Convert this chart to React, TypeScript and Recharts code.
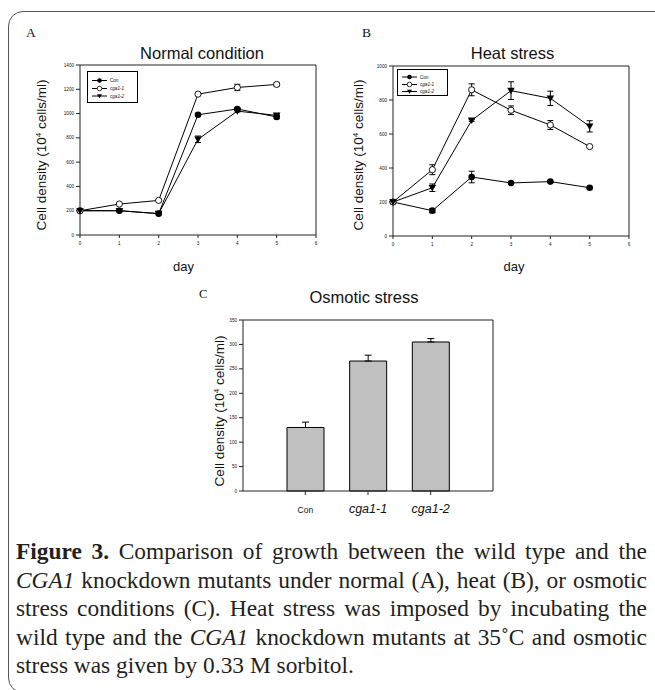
import { LineChart, Line, BarChart, Bar, XAxis, YAxis, ErrorBar, CartesianGrid } from "recharts";

// growth curves, cell density (10^4 cells/ml) by day
const days = [0, 1, 2, 3, 4, 5];
const dayTicks = [0, 1, 2, 3, 4, 5, 6];

const normalCon = [200, 200, 176, 990, 1038, 972];
const normalConErr = [4, 4, 4, 8, 10, 14];
const normalCga11 = [200, 255, 285, 1160, 1215, 1240];
const normalCga11Err = [4, 4, 4, 10, 26, 14];
const normalCga12 = [200, 200, 176, 788, 1020, 985];
const normalCga12Err = [4, 4, 4, 27, 8, 10];
const normalTicks = [0, 200, 400, 600, 800, 1000, 1200, 1400];

const heatCon = [200, 149, 347, 312, 320, 284];
const heatConErr = [4, 12, 34, 4, 4, 4];
const heatCga11 = [200, 390, 860, 740, 653, 526];
const heatCga11Err = [4, 29, 35, 25, 26, 4];
const heatCga12 = [200, 284, 680, 855, 810, 645];
const heatCga12Err = [4, 22, 5, 52, 42, 33];
const heatTicks = [0, 200, 400, 600, 800, 1000];

// osmotic stress bars
const strains = ["Con", "cga1-1", "cga1-2"];
const osmotic = [130, 266, 305];
const osmoticErr = [11, 12, 7];
const osmoticTicks = [0, 50, 100, 150, 200, 250, 300, 350];

const SANS = '"Liberation Sans", Arial, sans-serif';
const SERIF = '"Liberation Serif", "Times New Roman", serif';
const INK = "#111";

const growthRows = (
  con: number[], conErr: number[],
  c1: number[], c1Err: number[],
  c2: number[], c2Err: number[]
) =>
  days.map((day, i) => ({
    day,
    con: con[i], conErr: conErr[i],
    c1: c1[i], c1Err: c1Err[i],
    c2: c2[i], c2Err: c2Err[i],
  }));

const normalRows = growthRows(normalCon, normalConErr, normalCga11, normalCga11Err, normalCga12, normalCga12Err);
const heatRows = growthRows(heatCon, heatConErr, heatCga11, heatCga11Err, heatCga12, heatCga12Err);
const osmoticRows = strains.map((name, i) => ({ name, value: osmotic[i], err: [0, osmoticErr[i]] }));

const tickFont = { fontSize: 4.6, fill: INK, fontFamily: SANS };

// top and right edges of the plot box, taken from the chart's own offset
const topEdge = ({ offset }: any) => [offset.top];
const rightEdge = ({ offset }: any) => [offset.left + offset.width];

const triDot = (p: any) => {
  const { cx, cy, index } = p;
  if (cx == null || cy == null) return <g key={index} />;
  return (
    <path
      key={index}
      d={`M${cx - 3.8},${cy - 2.8} L${cx + 3.8},${cy - 2.8} L${cx},${cy + 3.6} Z`}
      fill="#000"
    />
  );
};

function Marker({ kind, x, y, r }: { kind: number; x: number; y: number; r: number }) {
  if (kind === 0) return <circle cx={x} cy={y} r={r} fill="#000" />;
  if (kind === 1) return <circle cx={x} cy={y} r={r} fill="#fff" stroke="#000" strokeWidth={0.8} />;
  return <path d={`M${x - r * 1.1},${y - r * 0.8} L${x + r * 1.1},${y - r * 0.8} L${x},${y + r} Z`} fill="#000" />;
}

function LegendBox({ left, top, width, height, rows }: { left: number; top: number; width: number; height: number; rows: number[] }) {
  return (
    <svg style={{ position: "absolute", left, top }} width={width} height={height}>
      <rect x={0.5} y={0.5} width={width - 1} height={height - 1} fill="#fff" stroke="#000" strokeWidth={1} />
      {strains.map((name, i) => (
        <g key={name}>
          <line x1={5} x2={20} y1={rows[i]} y2={rows[i]} stroke="#000" strokeWidth={1} />
          <Marker kind={i} x={12.5} y={rows[i]} r={2.3} />
          <text
            x={23}
            y={rows[i] + 1.6}
            fontSize={4.6}
            fontFamily={SANS}
            fontStyle={i === 0 ? "normal" : "italic"}
            fill={INK}
          >
            {name}
          </text>
        </g>
      ))}
    </svg>
  );
}

function GrowthChart({
  rows, ticks, left, top, width, height, margin,
}: {
  rows: any[]; ticks: number[]; left: number; top: number; width: number; height: number;
  margin: { top: number; right: number; bottom: number; left: number };
}) {
  const max = ticks[ticks.length - 1];
  return (
    <div style={{ position: "absolute", left, top }}>
      <LineChart width={width} height={height} data={rows} margin={margin}>
        <CartesianGrid
          stroke="#222" strokeWidth={1} fill="none"
          horizontalCoordinatesGenerator={topEdge}
          verticalCoordinatesGenerator={rightEdge}
        />
        <XAxis
          dataKey="day" type="number" domain={[0, 6]} ticks={dayTicks} height={30}
          tick={tickFont} tickSize={3} tickMargin={3.5}
          axisLine={{ stroke: "#222" }} tickLine={{ stroke: "#222" }}
        />
        <YAxis
          domain={[0, max]} ticks={ticks} width={30} interval={0}
          tick={tickFont} tickSize={4} tickMargin={2}
          axisLine={{ stroke: "#222" }} tickLine={{ stroke: "#222" }}
        />
        <Line
          dataKey="con" type="linear" stroke="#000" strokeWidth={1}
          dot={{ r: 3.3, fill: "#000", stroke: "#000", strokeWidth: 0 }}
          isAnimationActive={false}
        >
          <ErrorBar dataKey="conErr" width={3} stroke="#000" strokeWidth={1} />
        </Line>
        <Line
          dataKey="c1" type="linear" stroke="#000" strokeWidth={1}
          dot={{ r: 3.1, fill: "#fff", stroke: "#000", strokeWidth: 0.9 }}
          isAnimationActive={false}
        >
          <ErrorBar dataKey="c1Err" width={3} stroke="#000" strokeWidth={1} />
        </Line>
        <Line
          dataKey="c2" type="linear" stroke="#000" strokeWidth={1}
          dot={triDot}
          isAnimationActive={false}
        >
          <ErrorBar dataKey="c2Err" width={3} stroke="#000" strokeWidth={1} />
        </Line>
      </LineChart>
    </div>
  );
}

const StrainTick = (props: any) => {
  const { x, y, payload } = props;
  const isCon = payload.value === "Con";
  return (
    <text
      x={x} y={y + 16} textAnchor="middle" fill={INK} fontFamily={SANS}
      fontSize={isCon ? 8.5 : 12.5} fontStyle={isCon ? "normal" : "italic"}
    >
      {payload.value}
    </text>
  );
};

function YLabel({ x, y }: { x: number; y: number }) {
  return (
    <text transform={`translate(${x},${y}) rotate(-90)`} textAnchor="middle" fontSize={13.5} fontFamily={SANS} fill={INK}>
      Cell density (10<tspan fontSize={8} dy={-5.5}>4</tspan>
      <tspan dy={5.5}> cells/ml)</tspan>
    </text>
  );
}

const captionLines = [
  <><b>Figure 3.</b> Comparison of growth between the wild type and the</>,
  <><i>CGA1</i> knockdown mutants under normal (A), heat (B), or osmotic</>,
  <>stress conditions (C). Heat stress was imposed by incubating the</>,
  <>wild type and the <i>CGA1</i> knockdown mutants at 35˚C and osmotic</>,
  <>stress was given by 0.33 M sorbitol.</>,
];

export default function App() {
  return (
    <div style={{ position: "absolute", left: 0, top: 0, width: 655, height: 690, overflow: "hidden", background: "#fff" }}>
      <div
        style={{
          position: "absolute", left: 7.5, top: 11, width: 700, height: 680,
          border: "1.3px solid #555", borderRadius: 15,
        }}
      />

      <GrowthChart
        rows={normalRows} ticks={normalTicks} left={0} top={0} width={330} height={300}
        margin={{ top: 65, right: 14, bottom: 35, left: 50 }}
      />
      <GrowthChart
        rows={heatRows} ticks={heatTicks} left={330} top={0} width={325} height={300}
        margin={{ top: 66, right: 26, bottom: 34, left: 33 }}
      />

      <div style={{ position: "absolute", left: 150, top: 285 }}>
        <BarChart width={360} height={250} data={osmoticRows} margin={{ top: 35, right: 17, bottom: 14, left: 63 }}>
          <CartesianGrid
            stroke="#222" strokeWidth={1} fill="none"
            horizontalCoordinatesGenerator={topEdge}
            verticalCoordinatesGenerator={rightEdge}
          />
          <XAxis
            dataKey="name" height={30} padding={{ left: 31, right: 31 }}
            tick={<StrainTick />} tickSize={4} tickMargin={2} interval={0}
            axisLine={{ stroke: "#222" }} tickLine={{ stroke: "#222" }}
          />
          <YAxis
            domain={[0, 350]} ticks={osmoticTicks} width={30} interval={0}
            tick={tickFont} tickSize={4} tickMargin={2}
            axisLine={{ stroke: "#222" }} tickLine={{ stroke: "#222" }}
          />
          <Bar dataKey="value" barSize={37} fill="#c0c0c0" stroke="#000" strokeWidth={1} isAnimationActive={false}>
            <ErrorBar dataKey="err" width={3.5} stroke="#000" strokeWidth={1} />
          </Bar>
        </BarChart>
      </div>

      <LegendBox left={87} top={71} width={51} height={32} rows={[9.5, 17.5, 25]} />
      <LegendBox left={397} top={69} width={51} height={27} rows={[8, 15.5, 22.5]} />

      <svg style={{ position: "absolute", left: 0, top: 0, pointerEvents: "none" }} width={655} height={690}>
        <text x={26} y={37} fontSize={13.5} fontFamily={SERIF} fill={INK}>A</text>
        <text x={362} y={37} fontSize={13.5} fontFamily={SERIF} fill={INK}>B</text>
        <text x={199} y={298} fontSize={12.5} fontFamily={SERIF} fill={INK}>C</text>

        <text x={202} y={59} textAnchor="middle" fontSize={16.5} fontFamily={SANS} fill={INK}>Normal condition</text>
        <text x={512.5} y={59} textAnchor="middle" fontSize={16.5} fontFamily={SANS} fill={INK}>Heat stress</text>
        <text x={364} y={303} textAnchor="middle" fontSize={16.5} fontFamily={SANS} fill={INK}>Osmotic stress</text>

        <YLabel x={46} y={155} />
        <YLabel x={363} y={155} />
        <YLabel x={224} y={411} />

        <text x={183.5} y={271} textAnchor="middle" fontSize={13} fontFamily={SANS} fill={INK}>day</text>
        <text x={514} y={271} textAnchor="middle" fontSize={13} fontFamily={SANS} fill={INK}>day</text>
      </svg>

      <div
        style={{
          position: "absolute", left: 16, top: 537, width: 631,
          fontFamily: SERIF, fontSize: 23.4, lineHeight: "28.6px", color: "#231f20",
        }}
      >
        {captionLines.map((line, i) => (
          <div
            key={i}
            style={{
              textAlign: "justify",
              textAlignLast: i < captionLines.length - 1 ? "justify" : "left",
              whiteSpace: "nowrap",
            }}
          >
            {line}
          </div>
        ))}
      </div>
    </div>
  );
}
